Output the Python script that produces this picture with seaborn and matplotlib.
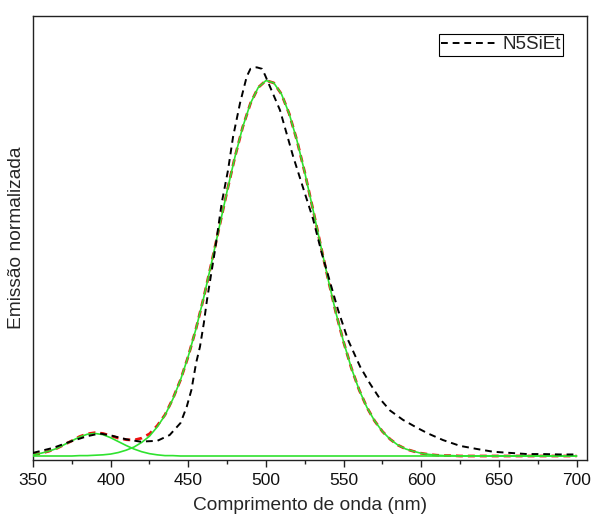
import matplotlib
matplotlib.use("Agg")
import matplotlib.pyplot as plt
import numpy as np
import pandas as pd
import seaborn as sns
from matplotlib.ticker import MultipleLocator

# Measured emission spectrum (normalised to the maximum)
wl_meas = [350, 363, 374, 385, 393, 401, 410, 419, 430, 438,
           445, 449, 452, 455, 457.5, 460, 462, 467.2, 471.5, 475.6,
           478.8, 483.3, 487.6, 490, 494, 497.5, 499.4, 509, 517.4, 523.9,
           530.3, 535.9, 546.4, 552.8, 560.6, 567, 573.4, 579.9, 588.2, 597.1,
           604.3, 614, 625, 635.9, 646.2, 657.1, 668.1, 678.4, 689.3, 699]
em_meas = [0.008, 0.021, 0.037, 0.051, 0.058, 0.052, 0.043, 0.037, 0.039, 0.054,
           0.085, 0.127, 0.170, 0.239, 0.281, 0.342, 0.401, 0.530, 0.651, 0.736,
           0.821, 0.908, 0.976, 0.996, 1.000, 0.996, 0.980, 0.890, 0.772, 0.690,
           0.610, 0.522, 0.376, 0.299, 0.230, 0.186, 0.147, 0.117, 0.093, 0.073,
           0.058, 0.041, 0.026, 0.018, 0.011, 0.008, 0.005, 0.005, 0.004, 0.004]

# Fitted Gaussian components on a 5 nm grid (350 ... 700 nm)
wl_fit = list(range(350, 705, 5))
peak_uv = [0.003, 0.007, 0.012, 0.019, 0.029, 0.039, 0.049, 0.056, 0.058, 0.055,
           0.047, 0.037, 0.027, 0.018, 0.011, 0.006, 0.003, 0.001, 0.001, 0.0,
           0.0, 0.0, 0.0, 0.0, 0.0, 0.0, 0.0, 0.0, 0.0, 0.0,
           0.0, 0.0, 0.0, 0.0, 0.0, 0.0, 0.0, 0.0, 0.0, 0.0,
           0.0, 0.0, 0.0, 0.0, 0.0, 0.0, 0.0, 0.0, 0.0, 0.0,
           0.0, 0.0, 0.0, 0.0, 0.0, 0.0, 0.0, 0.0, 0.0, 0.0,
           0.0, 0.0, 0.0, 0.0, 0.0, 0.0, 0.0, 0.0, 0.0, 0.0, 0.0]
peak_vis = [0.0, 0.0, 0.0, 0.0, 0.0, 0.0, 0.001, 0.001, 0.002, 0.003,
            0.005, 0.009, 0.015, 0.023, 0.035, 0.051, 0.075, 0.105, 0.146, 0.196,
            0.257, 0.328, 0.409, 0.498, 0.590, 0.682, 0.769, 0.846, 0.907, 0.948,
            0.966, 0.960, 0.931, 0.880, 0.811, 0.729, 0.639, 0.546, 0.455, 0.369,
            0.293, 0.226, 0.170, 0.125, 0.090, 0.063, 0.043, 0.028, 0.018, 0.012,
            0.007, 0.004, 0.002, 0.001, 0.001, 0.0, 0.0, 0.0, 0.0, 0.0,
            0.0, 0.0, 0.0, 0.0, 0.0, 0.0, 0.0, 0.0, 0.0, 0.0, 0.0]

meas = pd.DataFrame({"wl": wl_meas, "em": em_meas})
fit = pd.DataFrame({"wl": wl_fit, "uv": peak_uv, "vis": peak_vis})
fit["total"] = fit["uv"] + fit["vis"]

sns.set_style("ticks")
plt.rcParams["font.family"] = ["Liberation Sans", "DejaVu Sans"]

fig = plt.figure(figsize=(5.92, 5.18), dpi=100)
ax = fig.add_axes([33 / 592, 58.5 / 518, 554 / 592, 443.5 / 518])

green = "#2fe22f"

# cumulative fit (red dashed) underneath the components
sns.lineplot(data=fit, x="wl", y="total", ax=ax, color="#ee1111", lw=2.0,
             linestyle="--", zorder=2, legend=False)
ax.lines[-1].set_dashes([2.5, 1.8])
sns.lineplot(data=fit, x="wl", y="uv", ax=ax, color=green, lw=1.2,
             zorder=3, legend=False)
sns.lineplot(data=fit, x="wl", y="vis", ax=ax, color=green, lw=1.2,
             zorder=3, legend=False)
sns.lineplot(data=meas, x="wl", y="em", ax=ax, color="black", lw=1.4,
             linestyle="--", zorder=4, label="N5SiEt")
ax.lines[-1].set_dashes([3.5, 2.5])

ax.set_xlim(350, 706.7)
ax.set_ylim(-0.009, 1.132)
ax.set_yticks([])
ax.xaxis.set_major_locator(MultipleLocator(50))
ax.xaxis.set_minor_locator(MultipleLocator(25))
ax.tick_params(axis="x", which="major", direction="out", length=5, width=1.0,
               labelsize=12.5, pad=5, color="#222222", labelcolor="#111111")
ax.tick_params(axis="x", which="minor", direction="out", length=3, width=1.0,
               color="#222222")
ax.tick_params(top=False, right=False, which="both")

for s in ax.spines.values():
    s.set_color("#222222")
    s.set_linewidth(1.0)
    s.set_visible(True)

ax.set_xlabel("Comprimento de onda (nm)", fontsize=13.8, labelpad=6)
ax.set_ylabel("Emissão normalizada", fontsize=13.8, labelpad=6)

leg = ax.legend(loc="upper right", bbox_to_anchor=(0.9567, 0.9593),
                borderaxespad=0, fontsize=13.5, frameon=True, fancybox=False,
                handlelength=2.95, handletextpad=0.3, borderpad=0.12,
                framealpha=1)
leg.get_frame().set_edgecolor("black")
leg.get_frame().set_linewidth(0.8)

fig.savefig("out.png", dpi=100)
